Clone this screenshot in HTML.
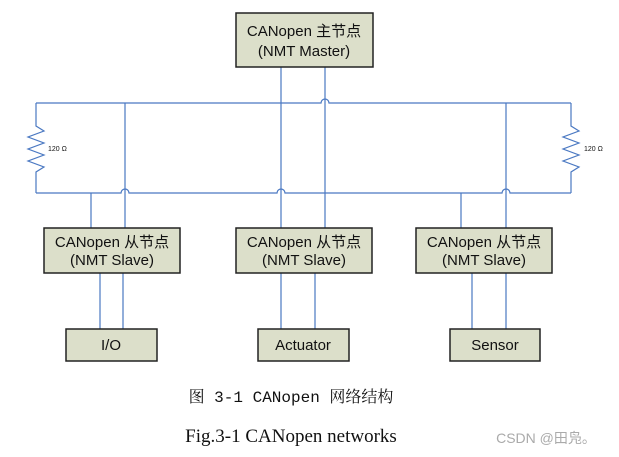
<!DOCTYPE html>
<html><head><meta charset="utf-8"><style>
body{margin:0;background:#fff;}
svg{display:block;}
.b{fill:#dcdfca;stroke:#222;stroke-width:1.5;}
.l{stroke:#4a78c2;stroke-width:1.2;fill:none;}
.t{font-family:"Liberation Sans","Noto Sans CJK SC",sans-serif;font-size:15px;fill:#111;text-anchor:middle;}
</style></head><body>
<svg width="619" height="457" viewBox="0 0 619 457">
<path class="l" d="M36 103 H321 a4 4 0 0 1 8 0 H571"/>
<path class="l" d="M36 193 H121 a4 4 0 0 1 8 0 H277 a4 4 0 0 1 8 0 H502 a4 4 0 0 1 8 0 H571"/>
<path class="l" d="M36 103 V126 L44 131 L28 137 L44 143 L28 149 L44 155 L28 161 L44 167 L36 172 V193"/>
<path class="l" d="M571 103 V126 L579 131 L563 137 L579 143 L563 149 L579 155 L563 161 L579 167 L571 172 V193"/>
<text x="48" y="151" font-family="Liberation Sans,sans-serif" font-size="7" fill="#111">120 Ω</text>
<text x="584" y="151" font-family="Liberation Sans,sans-serif" font-size="7" fill="#111">120 Ω</text>
<line class="l" x1="281" y1="67" x2="281" y2="228"/>
<line class="l" x1="325" y1="67" x2="325" y2="228"/>
<line class="l" x1="91" y1="193" x2="91" y2="228"/>
<line class="l" x1="125" y1="103" x2="125" y2="228"/>
<line class="l" x1="461" y1="193" x2="461" y2="228"/>
<line class="l" x1="506" y1="103" x2="506" y2="228"/>
<line class="l" x1="100" y1="273" x2="100" y2="329"/>
<line class="l" x1="123" y1="273" x2="123" y2="329"/>
<line class="l" x1="281" y1="273" x2="281" y2="329"/>
<line class="l" x1="315" y1="273" x2="315" y2="329"/>
<line class="l" x1="472" y1="273" x2="472" y2="329"/>
<line class="l" x1="506" y1="273" x2="506" y2="329"/>
<rect class="b" x="236" y="13" width="137" height="54"/>
<text class="t" x="304" y="36">CANopen 主节点</text>
<text class="t" x="304" y="56">(NMT Master)</text>
<rect class="b" x="44" y="228" width="136" height="45"/>
<text class="t" x="112" y="247">CANopen 从节点</text>
<text class="t" x="112" y="265">(NMT Slave)</text>
<rect class="b" x="236" y="228" width="136" height="45"/>
<text class="t" x="304" y="247">CANopen 从节点</text>
<text class="t" x="304" y="265">(NMT Slave)</text>
<rect class="b" x="416" y="228" width="136" height="45"/>
<text class="t" x="484" y="247">CANopen 从节点</text>
<text class="t" x="484" y="265">(NMT Slave)</text>
<rect class="b" x="66" y="329" width="91" height="32"/>
<text class="t" x="111" y="350">I/O</text>
<rect class="b" x="258" y="329" width="91" height="32"/>
<text class="t" x="303" y="350">Actuator</text>
<rect class="b" x="450" y="329" width="90" height="32"/>
<text class="t" x="495" y="350">Sensor</text>
<text x="291" y="402" text-anchor="middle" font-family="Liberation Mono,'Noto Serif CJK SC',monospace" font-size="16" fill="#111">图 3-1 CANopen 网络结构</text>
<text x="291" y="442" text-anchor="middle" font-family="Liberation Serif,serif" font-size="19" fill="#111">Fig.3-1 CANopen networks</text>
<text x="546" y="443" text-anchor="middle" font-family="Liberation Sans,'Noto Sans CJK SC',sans-serif" font-size="14" fill="#aaa">CSDN @田凫。</text>
</svg>
</body></html>
